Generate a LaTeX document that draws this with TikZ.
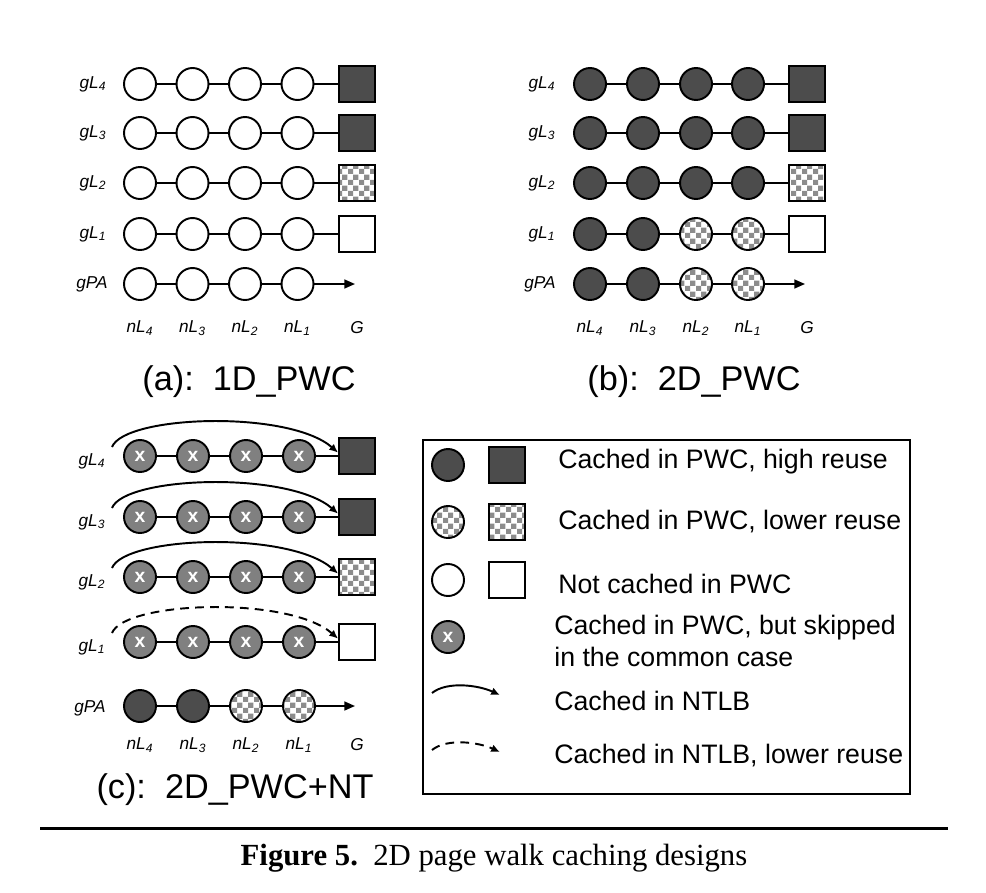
\documentclass[tikz,border=0pt]{standalone}
\usepackage{fontspec}
\setmainfont{Liberation Sans}
\newfontfamily\capfont{Liberation Serif}
\usetikzlibrary{arrows.meta,patterns,calc}

\pgfdeclarepatternformonly{checks}{\pgfqpoint{0pt}{0pt}}{\pgfqpoint{6pt}{6pt}}{\pgfqpoint{6pt}{6pt}}{%
  \pgfpathrectangle{\pgfqpoint{0pt}{0pt}}{\pgfqpoint{3pt}{3pt}}%
  \pgfpathrectangle{\pgfqpoint{3pt}{3pt}}{\pgfqpoint{3pt}{3pt}}%
  \pgfusepath{fill}}

\definecolor{hitgray}{gray}{0.30}
\definecolor{skipgray}{gray}{0.50}
\definecolor{checkgray}{gray}{0.55}

\newcommand{\lvl}[2]{\textit{#1L\textsubscript{#2}}}

\tikzset{
  pwc/.style={circle, draw, line width=1.1pt, minimum size=0.64cm, inner sep=0pt},
  hit/.style={pwc, fill=hitgray},
  low/.style={pwc, preaction={fill=white}, pattern=checks, pattern color=checkgray},
  miss/.style={pwc, fill=white},
  skip/.style={pwc, fill=skipgray, text=white, font=\bfseries\fontsize{11}{12}\selectfont},
  gbox/.style={rectangle, draw, line width=1.1pt, minimum size=0.72cm, inner sep=0pt},
  hitbox/.style={gbox, fill=hitgray},
  lowbox/.style={gbox, preaction={fill=white}, pattern=checks, pattern color=checkgray},
  missbox/.style={gbox, fill=white},
  link/.style={line width=1pt},
  walk/.style={line width=1pt, -{Triangle[length=6pt,width=5pt]}},
  ntlb/.style={line width=1.1pt, -{Latex[length=5pt,width=4.5pt]}},
  ntlbweak/.style={ntlb, dash pattern=on 5pt off 3.5pt},
  tag/.style={font=\fontsize{9.8}{11}\selectfont},
  panel/.style={font=\fontsize{19.5}{23}\selectfont},
  legend/.style={font=\fontsize{15.2}{18.5}\selectfont, anchor=west, inner sep=0pt}
}

\begin{document}
\begin{tikzpicture}[x=0.02cm, y=-0.02cm]
\useasboundingbox (0,0) rectangle (986,892);

% (a): 1D_PWC
\foreach \r/\y/\g in {4/84/hitbox, 3/133/hitbox, 2/183/lowbox, 1/234/missbox}{
  \foreach \c/\x in {4/140, 3/192.5, 2/245, 1/297.5}
    \node[miss] (a\r-\c) at (\x,\y) {};
  \node[\g] (a\r-G) at (357,\y) {};
  \draw[link] (a\r-4) -- (a\r-3) -- (a\r-2) -- (a\r-1) -- (a\r-G);
  \node[tag] (at\r) at (93,\y) {\lvl{g}{\r}};
}
\foreach \c/\x in {4/140, 3/192.5, 2/245, 1/297.5}{
  \node[miss] (a0-\c) at (\x,284) {};
  \node[tag] (an\c) at (\x,328) {\lvl{n}{\c}};
}
\coordinate (a0-G) at (355,284);
\draw[link] (a0-4) -- (a0-3) -- (a0-2) -- (a0-1);
\draw[walk] (a0-1) -- (a0-G);
\node[tag] (at0) at (92,284) {\textit{gPA}};
\node[tag] (anG) at (357,328) {\textit{G}};
\node[panel] (acap) at (249,382) {(a):\ \ 1D\_PWC};

% (b): 2D_PWC
\foreach \r/\y/\p/\g in {4/84/hit/hitbox, 3/133/hit/hitbox, 2/183/hit/lowbox, 1/234/low/missbox}{
  \node[hit] (b\r-4) at (590,\y) {};
  \node[hit] (b\r-3) at (643,\y) {};
  \node[\p] (b\r-2) at (696,\y) {};
  \node[\p] (b\r-1) at (748,\y) {};
  \node[\g] (b\r-G) at (807,\y) {};
  \draw[link] (b\r-4) -- (b\r-3) -- (b\r-2) -- (b\r-1) -- (b\r-G);
  \node[tag] (bt\r) at (542,\y) {\lvl{g}{\r}};
}
\node[hit] (b0-4) at (590,284) {};
\node[hit] (b0-3) at (643,284) {};
\node[low] (b0-2) at (696,284) {};
\node[low] (b0-1) at (748,284) {};
\coordinate (b0-G) at (805,284);
\draw[link] (b0-4) -- (b0-3) -- (b0-2) -- (b0-1);
\draw[walk] (b0-1) -- (b0-G);
\node[tag] (bt0) at (540,284) {\textit{gPA}};
\foreach \c/\x in {4/590, 3/643, 2/696, 1/748}
  \node[tag] (bn\c) at (\x,328) {\lvl{n}{\c}};
\node[tag] (bnG) at (807,328) {\textit{G}};
\node[panel] (bcap) at (694,382) {(b):\ \ 2D\_PWC};

% (c): 2D_PWC+NT
\foreach \r/\y/\g/\a in {4/456/hitbox/ntlb, 3/517/hitbox/ntlb, 2/577/lowbox/ntlb, 1/642/missbox/ntlbweak}{
  \foreach \c/\x in {4/140, 3/193, 2/246, 1/299}
    \node[skip] (c\r-\c) at (\x,\y) {x};
  \node[\g] (c\r-G) at (357,\y) {};
  \draw[link] (c\r-4) -- (c\r-3) -- (c\r-2) -- (c\r-1) -- (c\r-G);
  \node[tag] (ct\r) at (92,\y+5) {\lvl{g}{\r}};
  \coordinate (cs\r) at ($(c\r-4)+(-28,-9)$);
  \draw[\a] (cs\r) .. controls +(13,-32) and +(-49,-43) .. (c\r-G.170);
}
\node[hit] (c0-4) at (140,706) {};
\node[hit] (c0-3) at (193,706) {};
\node[low] (c0-2) at (246,706) {};
\node[low] (c0-1) at (299,706) {};
\coordinate (c0-G) at (355,706);
\draw[link] (c0-4) -- (c0-3) -- (c0-2) -- (c0-1);
\draw[walk] (c0-1) -- (c0-G);
\node[tag] (ct0) at (90,708) {\textit{gPA}};
\foreach \c/\x in {4/140, 3/193, 2/246, 1/299}
  \node[tag] (cn\c) at (\x,745) {\lvl{n}{\c}};
\node[tag] (cnG) at (357,745) {\textit{G}};
\node[panel] (ccap) at (235,790) {(c):\ \ 2D\_PWC+NT};

% legend
\draw[line width=0.8pt] (423,440) rectangle (910,794);
\node[hit] (k1c) at (448,465) {};
\node[hitbox] (k1s) at (507,465) {};
\node[legend] (k1) at (558,462) {Cached in PWC, high reuse};
\node[low] (k2c) at (448,522) {};
\node[lowbox] (k2s) at (507,522) {};
\node[legend] (k2) at (558,522) {Cached in PWC, lower reuse};
\node[miss] (k3c) at (448,580) {};
\node[missbox] (k3s) at (507,580) {};
\node[legend] (k3) at (558,584) {Not cached in PWC};
\node[skip] (k4c) at (448,637) {x};
\node[legend, align=left] (k4) at (554,641) {Cached in PWC, but skipped\\in the common case};
\coordinate (k5a) at (432,693);
\coordinate (k5b) at (500,695);
\draw[ntlb] (k5a) .. controls +(15,-12) and +(-22,-10) .. (k5b);
\node[legend] (k5) at (554,701) {Cached in NTLB};
\coordinate (k6a) at (432,750);
\coordinate (k6b) at (500,752);
\draw[ntlbweak] (k6a) .. controls +(15,-12) and +(-22,-10) .. (k6b);
\node[legend] (k6) at (554,756) {Cached in NTLB, lower reuse};

% figure caption
\coordinate (rl) at (40,828);
\coordinate (rr) at (948,828);
\draw[line width=1.7pt] (rl) -- (rr);
\node[font=\capfont\fontsize{17.5}{20}\selectfont] (fig) at (494,858) {\textbf{Figure 5.}\ \ 2D page walk caching designs};
\end{tikzpicture}
\end{document}
